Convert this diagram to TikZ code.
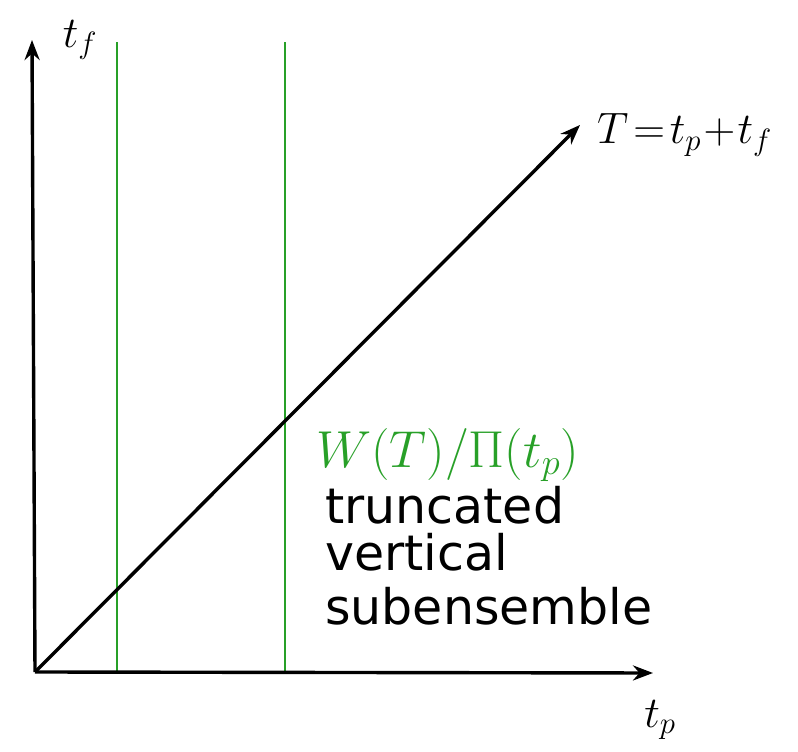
\documentclass[tikz,border=0pt]{standalone}
\usepackage{fix-cm}
\usepackage{fontspec}
\newfontfamily\hand{DejaVu Sans}
\usetikzlibrary{arrows.meta}
\definecolor{lgreen}{RGB}{40,160,40}
\tikzset{
  axis/.style={line width=3.4pt,-{Stealth[length=20pt,width=15pt]}},
  guide/.style={line width=2.6pt,lgreen},
  lbl/.style={font=\fontsize{44}{52}\selectfont,inner sep=0pt},
  txt/.style={font=\hand\fontsize{49}{56}\selectfont,inner sep=0pt,anchor=west}
}
\begin{document}
\begin{tikzpicture}[x=1pt,y=1pt]
\useasboundingbox (0,0) rectangle (798,752);
\coordinate (O) at (35,80);
\coordinate (Ytop) at (32,712);
\coordinate (Xend) at (653,79);
\coordinate (Dend) at (580,627);
\coordinate (g1b) at (117,80);
\coordinate (g1t) at (117,710);
\coordinate (g2b) at (285,80);
\coordinate (g2t) at (285,710);
\draw[guide] (g1b) -- (g1t);
\draw[guide] (g2b) -- (g2t);
\draw[axis] (O) -- (Ytop);
\draw[axis] (O) -- (Xend);
\draw[axis] (O) -- (Dend);
\node[lbl] (tf) at (80,712) {$t_f$};
\node[lbl,anchor=west] (T) at (597,617) {$T\!=\!t_p\!+\!t_f$};
\node[lbl] (tp) at (660,32) {$t_p$};
\node[lbl,anchor=west,text=lgreen,font=\fontsize{52}{60}\selectfont] (W) at (316,297) {$W(T)/\Pi(t_p)$};
\node[txt] (l1) at (325,247) {truncated};
\node[txt] (l2) at (325,200) {vertical};
\node[txt] (l3) at (325,146) {subensemble};
\end{tikzpicture}
\end{document}
